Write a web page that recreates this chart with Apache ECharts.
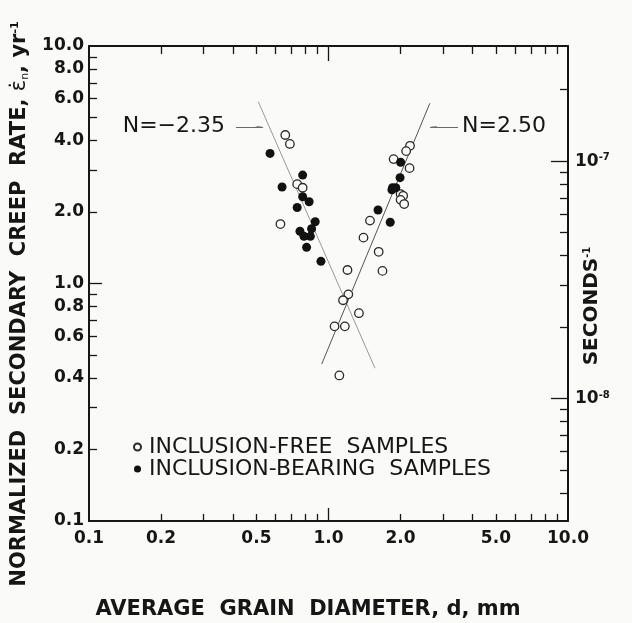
<!DOCTYPE html>
<html><head><meta charset="utf-8">
<script src="https://cdn.jsdelivr.net/npm/echarts@6/dist/echarts.min.js"></script>
<style>html,body{margin:0;padding:0;background:#fafaf8;}#c{width:632px;height:623px;}</style>
</head><body><div id="c"></div>
<script>
// ---- data (grain diameter in mm, normalized creep rate in yr^-1) ----
const xTickLabels = [0.1, 0.2, 0.5, 1.0, 2.0, 5.0, 10.0];
const yTickLabels = [0.1, 0.2, 0.4, 0.6, 0.8, 1.0, 2.0, 4.0, 6.0, 8.0, 10.0];
const minorTicks = [0.2,0.3,0.4,0.5,0.6,0.7,0.8,0.9,2,3,4,5,6,7,8,9];
const secMinorTicks = [4e-9,5e-9,6e-9,7e-9,8e-9,9e-9,2e-8,3e-8,4e-8,5e-8,6e-8,7e-8,8e-8,9e-8,2e-7];
const secMajorTicks = [1e-8, 1e-7];
const LOG_YR_TO_SEC = -7.515; // log10 offset between yr^-1 and s^-1 scales as drawn

const freeName = 'INCLUSION-FREE  SAMPLES';
const freeD    = [0.66, 0.69, 0.74, 0.78, 0.63, 2.19, 2.11, 1.87, 2.18, 2.00, 2.05, 2.00, 2.07, 1.49, 1.40, 1.62, 1.68, 1.20, 1.21, 1.15, 1.34, 1.06, 1.17, 1.11];
const freeRate = [4.22, 3.87, 2.62, 2.53, 1.78, 3.80, 3.61, 3.34, 3.06, 2.38, 2.34, 2.25, 2.16, 1.84, 1.56, 1.36, 1.13, 1.14, 0.90, 0.85, 0.75, 0.66, 0.66, 0.41];

const bearName = 'INCLUSION-BEARING  SAMPLES';
const bearD    = [0.57, 0.78, 0.64, 0.78, 0.83, 0.74, 0.88, 0.85, 0.76, 0.79, 0.84, 0.81, 0.93, 2.00, 1.99, 1.85, 1.91, 1.84, 1.61, 1.81];
const bearRate = [3.53, 2.86, 2.55, 2.32, 2.21, 2.09, 1.82, 1.70, 1.66, 1.58, 1.58, 1.42, 1.24, 3.24, 2.79, 2.53, 2.53, 2.48, 2.04, 1.81];

const fitNegD = [0.509, 1.563];
const fitNegRate = [5.83, 0.44];
const fitPosD = [0.937, 2.65];
const fitPosRate = [0.458, 5.74];

const annNegText = 'N=\u22122.35';
const annNegD = [0.411, 0.533];
const annNegRate = [4.57, 4.57];
const annPosText = 'N=2.50';
const annPosD = [3.473, 2.654];
const annPosRate = [4.57, 4.57];

// ---- helpers ----
const L = v => Math.log10(v);
const pairs = (xs, ys) => xs.map((x, i) => [L(x), L(ys[i])]);
const BG = '#fafaf8', INK = '#161616';
const tickFont = { fontFamily: 'DejaVu Sans', fontWeight: 'bold', fontSize: 17, color: INK };

const chart = echarts.init(document.getElementById('c'), null, { renderer: 'canvas' });

function xAx(position, tickVals, len, showLine, labels) {
  return {
    type: 'value', position, min: -1, max: 1, splitLine: { show: false },
    axisLine: { show: showLine, onZero: false, lineStyle: { color: INK, width: 2 } },
    axisTick: { show: true, inside: true, length: len, customValues: tickVals.map(L), lineStyle: { color: INK, width: 1.3 } },
    axisLabel: labels ? Object.assign({ show: true, margin: 9, customValues: labels.map(L),
      formatter: v => Math.pow(10, v).toFixed(1) }, tickFont) : { show: false }
  };
}
function yAx(position, tickVals, len, showLine, labels) {
  return {
    type: 'value', position, min: -1, max: 1, splitLine: { show: false },
    axisLine: { show: showLine, onZero: false, lineStyle: { color: INK, width: 2 } },
    axisTick: { show: true, inside: true, length: len, customValues: tickVals.map(L), lineStyle: { color: INK, width: 1.3 } },
    axisLabel: labels ? Object.assign({ show: true, margin: 5, customValues: labels.map(L),
      formatter: v => Math.pow(10, v).toFixed(1) }, tickFont) : { show: false }
  };
}
function secAx(tickVals, len, showLine, labels) {
  return {
    type: 'value', position: 'right', min: -1 + LOG_YR_TO_SEC, max: 1 + LOG_YR_TO_SEC, splitLine: { show: false },
    axisLine: { show: showLine, onZero: false, lineStyle: { color: INK, width: 2 } },
    axisTick: { show: true, inside: true, length: len, customValues: tickVals.map(L), lineStyle: { color: INK, width: 1.3 } },
    axisLabel: labels ? { show: true, margin: 7, customValues: labels.map(L),
      formatter: v => '{b|10}{s|' + Math.round(v) + '}',
      rich: { b: { fontFamily: 'DejaVu Sans', fontWeight: 'bold', fontSize: 17, color: INK, verticalAlign: 'bottom' },
              s: { fontFamily: 'DejaVu Sans', fontWeight: 'bold', fontSize: 10, color: INK, verticalAlign: 'top' } } } : { show: false }
  };
}

function annLine(text, ds, rs, dist) {
  return {
    silent: true, animation: false, symbol: ['none', 'arrow'], symbolSize: [1, 8],
    lineStyle: { color: '#6a6a6a', width: 1, type: 'solid', opacity: 1 },
    label: { show: true, position: 'start', distance: dist, formatter: text, padding: [0, 0, 9, 0],
      fontFamily: 'DejaVu Sans', fontSize: 22, color: INK },
    data: [[{ coord: [L(ds[0]), L(rs[0])] }, { coord: [L(ds[1]), L(rs[1])] }]]
  };
}

chart.setOption({
  backgroundColor: BG,
  animation: false,
  grid: { left: 89, top: 46, width: 479, height: 475, containLabel: false },
  xAxis: [
    xAx('bottom', minorTicks, 7, true, xTickLabels),
    xAx('top', minorTicks, 8, true, null),
    xAx('bottom', [1], 13, false, null),
    xAx('top', [1], 15, false, null)
  ],
  yAxis: [
    yAx('left', minorTicks, 8, true, yTickLabels),
    yAx('left', [1], 13, false, null),
    secAx(secMinorTicks, 8, true, secMajorTicks),
    secAx(secMajorTicks, 17, false, null)
  ],
  legend: {
    orient: 'vertical', left: 128, top: 431, itemWidth: 7, itemHeight: 7, itemGap: 0,
    icon: 'circle', selectedMode: false,
    textStyle: { fontFamily: 'DejaVu Sans', fontSize: 22, color: INK, lineHeight: 20, padding: [0, 0, 0, 3] },
    data: [freeName, bearName]
  },
  series: [
    { type: 'line', name: 'fitNeg', data: pairs(fitNegD, fitNegRate), symbol: 'none', silent: true, z: 1,
      lineStyle: { color: '#999', width: 1 }, markLine: annLine(annNegText, annNegD, annNegRate, 11) },
    { type: 'line', name: 'fitPos', data: pairs(fitPosD, fitPosRate), symbol: 'none', silent: true, z: 1,
      lineStyle: { color: '#555', width: 1 }, markLine: annLine(annPosText, annPosD, annPosRate, 4) },
    { type: 'scatter', name: freeName, data: pairs(freeD, freeRate), symbol: 'circle', symbolSize: 8.5, z: 3,
      itemStyle: { color: BG, borderColor: '#2a2a2a', borderWidth: 1.3, opacity: 1 } },
    { type: 'scatter', name: bearName, data: pairs(bearD, bearRate), symbol: 'circle', symbolSize: 9, z: 4,
      itemStyle: { color: '#111', opacity: 1 } }
  ],
  graphic: [
    { type: 'text', x: 20, y: 304, rotation: Math.PI / 2, silent: true,
      style: { text: '{t|NORMALIZED  SECONDARY  CREEP  RATE, }{e|\u03B5\u0307}{n|n}{t|, yr}{u|-1}',
        align: 'center', verticalAlign: 'middle',
        rich: {
          t: { fontFamily: 'DejaVu Sans', fontWeight: 'bold', fontSize: 21, fill: INK, verticalAlign: 'bottom' },
          e: { fontFamily: 'DejaVu Sans', fontSize: 21, fill: INK, verticalAlign: 'bottom' },
          n: { fontFamily: 'DejaVu Sans', fontSize: 11, fill: INK, verticalAlign: 'bottom' },
          u: { fontFamily: 'DejaVu Sans', fontWeight: 'bold', fontSize: 11, fill: INK, verticalAlign: 'top' }
        } } },
    { type: 'text', x: 592, y: 306, rotation: Math.PI / 2, silent: true,
      style: { text: '{t|SECONDS}{u|-1}', align: 'center', verticalAlign: 'middle',
        rich: {
          t: { fontFamily: 'DejaVu Sans', fontWeight: 'bold', fontSize: 20, fill: INK, verticalAlign: 'bottom' },
          u: { fontFamily: 'DejaVu Sans', fontWeight: 'bold', fontSize: 10, fill: INK, verticalAlign: 'top' }
        } } },
    { type: 'text', x: 308, y: 610, silent: true,
      style: { text: 'AVERAGE  GRAIN  DIAMETER, d, mm', align: 'center', verticalAlign: 'middle',
        font: 'bold 21px "DejaVu Sans"', fill: INK } }
  ]
});
</script></body></html>
